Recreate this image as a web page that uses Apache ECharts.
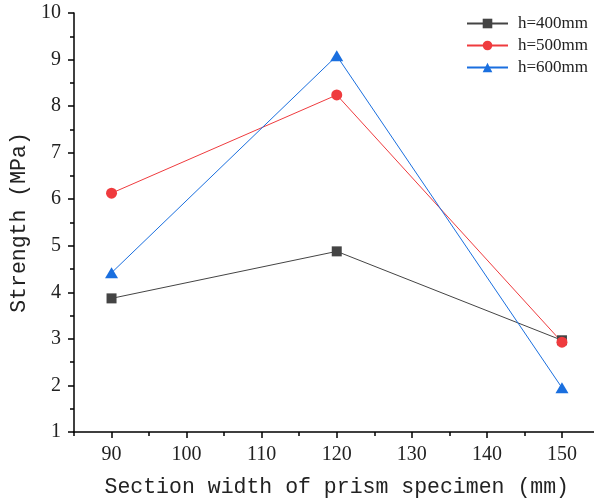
<!DOCTYPE html>
<html>
<head>
<meta charset="utf-8">
<script src="https://cdn.jsdelivr.net/npm/echarts@6/dist/echarts.min.js"></script>
<style>html,body{margin:0;padding:0;background:#fff;overflow:hidden}#c{width:600px;height:503px}</style>
</head>
<body>
<div id="c"></div>
<script>
var widths = [90, 120, 150];
var h400 = [3.87, 4.88, 2.97];
var h500 = [6.13, 8.24, 2.93];
var h600 = [4.42, 9.08, 1.95];
var xTicks = [90, 100, 110, 120, 130, 140, 150];
var xMinorTicks = [85, 95, 105, 115, 125, 135, 145, 155];
var seriesNames = ['h=400mm', 'h=500mm', 'h=600mm'];

function pairs(v) { return widths.map(function (w, i) { return [w, v[i]]; }); }

var chart = echarts.init(document.getElementById('c'), null, {renderer: 'canvas'});
var axisLine = {show: true, lineStyle: {color: '#000', width: 1.5}};
var labelFont = {fontFamily: 'Liberation Serif', fontSize: 20, color: '#222'};
chart.setOption({
  animation: false,
  backgroundColor: '#fff',
  grid: {left: 74, right: 0.5, top: 13, bottom: 71, containLabel: false},
  legend: {
    orient: 'vertical', left: 466, top: 15, padding: 0,
    itemWidth: 41, itemHeight: 12, itemGap: 5,
    textStyle: {fontFamily: 'Liberation Serif', fontSize: 17, color: '#222', padding: [0, 0, 0, 5]},
    data: seriesNames
  },
  xAxis: [{
    type: 'value', min: 85, max: 155, position: 'bottom',
    name: 'Section width of prism specimen (mm)', nameLocation: 'middle', nameGap: 44,
    nameTextStyle: {fontFamily: 'Liberation Mono', fontSize: 21.5, color: '#222'},
    axisLine: axisLine,
    axisTick: {show: true, length: 6, inside: false, customValues: xTicks, lineStyle: {color: '#000', width: 1.5}},
    axisLabel: Object.assign({margin: 13, customValues: xTicks}, labelFont),
    splitLine: {show: false}
  }, {
    type: 'value', min: 85, max: 155, position: 'bottom',
    axisLine: {show: false},
    axisTick: {show: true, length: 4, customValues: xMinorTicks, lineStyle: {color: '#000', width: 1.5}},
    axisLabel: {show: false},
    splitLine: {show: false}
  }],
  yAxis: {
    type: 'value', min: 1, max: 10, interval: 1,
    name: 'Strength (MPa)', nameLocation: 'middle', nameGap: 37,
    nameTextStyle: {fontFamily: 'Liberation Mono', fontSize: 21.5, color: '#222'},
    axisLine: axisLine,
    axisTick: {show: true, length: 6, lineStyle: {color: '#000', width: 1.5}},
    minorTick: {show: true, splitNumber: 2, length: 4, lineStyle: {color: '#000', width: 1.5}},
    axisLabel: Object.assign({margin: 13}, labelFont),
    splitLine: {show: false}
  },
  series: [{
    name: seriesNames[0], type: 'line', data: pairs(h400),
    symbol: 'rect', symbolSize: 10,
    lineStyle: {color: '#444', width: 1},
    itemStyle: {color: '#444'}
  }, {
    name: seriesNames[1], type: 'line', data: pairs(h500),
    symbol: 'circle', symbolSize: 11,
    lineStyle: {color: '#ef3b3e', width: 1},
    itemStyle: {color: '#ef3b3e'}
  }, {
    name: seriesNames[2], type: 'line', data: pairs(h600),
    symbol: 'triangle', symbolSize: [13, 11],
    lineStyle: {color: '#1a6fdf', width: 1},
    itemStyle: {color: '#1a6fdf'}
  }]
});
</script>
</body>
</html>
